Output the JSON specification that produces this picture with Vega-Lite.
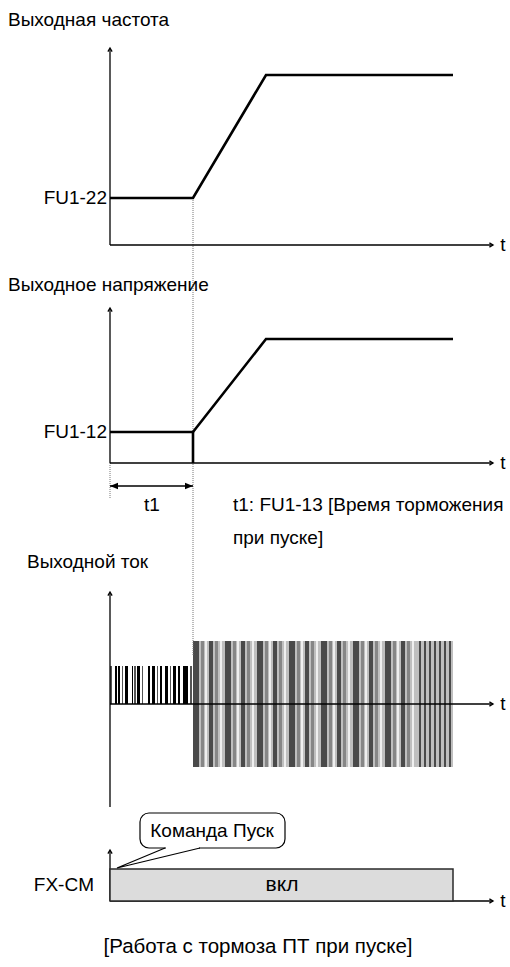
{
  "$schema": "https://vega.github.io/schema/vega-lite/v6.json",
  "width": 510,
  "height": 967,
  "autosize": {"type": "fit", "contains": "padding"},
  "padding": 0,
  "background": "white",
  "config": {"view": {"stroke": null}, "font": "Liberation Sans"},
  "datasets": {
    "signals": [
      {"s": "freq", "o": 1, "t": 0, "v": 198},
      {"s": "freq", "o": 2, "t": 83, "v": 198},
      {"s": "freq", "o": 3, "t": 156, "v": 75},
      {"s": "freq", "o": 4, "t": 343, "v": 75},
      {"s": "volt_hold", "o": 1, "t": 0, "v": 432},
      {"s": "volt_hold", "o": 2, "t": 83, "v": 432},
      {"s": "volt_hold", "o": 3, "t": 83, "v": 463},
      {"s": "volt_ramp", "o": 1, "t": 83, "v": 432},
      {"s": "volt_ramp", "o": 2, "t": 156, "v": 339},
      {"s": "volt_ramp", "o": 3, "t": 343, "v": 339}
    ],
    "axes": [
      {"t": 0, "t2": 0, "v": 245, "v2": 49},
      {"t": 0, "t2": 383, "v": 245, "v2": 245},
      {"t": 0, "t2": 0, "v": 463, "v2": 309},
      {"t": 0, "t2": 383, "v": 463, "v2": 463},
      {"t": 0, "t2": 0, "v": 807, "v2": 593},
      {"t": 0, "t2": 0, "v": 901, "v2": 851},
      {"t": 0, "t2": 383, "v": 901, "v2": 901}
    ],
    "currentAxis": [{"t": 0, "t2": 383, "v": 704, "v2": 704}],
    "arrowsUp": [{"t": 0, "v": 48}, {"t": 0, "v": 308}, {"t": 0, "v": 592}, {"t": 0, "v": 850}],
    "arrowsRight": [{"t": 383, "v": 245}, {"t": 383, "v": 463}, {"t": 383, "v": 704}, {"t": 383, "v": 901}],
    "dotted": [
      {"t": 83, "t2": 83, "v": 198, "v2": 655},
      {"t": 0, "t2": 0, "v": 463, "v2": 498}
    ],
    "cur1": [
      {"t": 0, "t2": 2, "v": 666, "v2": 704, "shade": "g"}, {"t": 5, "t2": 7, "v": 666, "v2": 704, "shade": "k"},
      {"t": 8, "t2": 10, "v": 666, "v2": 704, "shade": "k"}, {"t": 12, "t2": 13, "v": 666, "v2": 704, "shade": "g"},
      {"t": 15, "t2": 18, "v": 666, "v2": 704, "shade": "k"}, {"t": 22, "t2": 23, "v": 666, "v2": 704, "shade": "k"},
      {"t": 24, "t2": 26, "v": 666, "v2": 704, "shade": "g"}, {"t": 27, "t2": 30, "v": 666, "v2": 704, "shade": "k"},
      {"t": 32, "t2": 33, "v": 666, "v2": 704, "shade": "g"}, {"t": 38, "t2": 40, "v": 666, "v2": 704, "shade": "k"},
      {"t": 42, "t2": 45, "v": 666, "v2": 704, "shade": "k"}, {"t": 47, "t2": 48, "v": 666, "v2": 704, "shade": "g"},
      {"t": 50, "t2": 52, "v": 666, "v2": 704, "shade": "k"}, {"t": 55, "t2": 58, "v": 666, "v2": 704, "shade": "k"},
      {"t": 60, "t2": 61, "v": 666, "v2": 704, "shade": "g"}, {"t": 63, "t2": 66, "v": 666, "v2": 704, "shade": "k"},
      {"t": 68, "t2": 70, "v": 666, "v2": 704, "shade": "k"}, {"t": 73, "t2": 78, "v": 666, "v2": 704, "shade": "k"},
      {"t": 80, "t2": 82, "v": 666, "v2": 704, "shade": "g"}
    ],
    "cur2": [
      {"t": 83, "t2": 343, "v": 641, "v2": 767, "shade": "l"},
      {"t": 83, "t2": 89, "v": 641, "v2": 767, "shade": "d"}, {"t": 91, "t2": 94, "v": 641, "v2": 767, "shade": "m"}, {"t": 95, "t2": 97, "v": 641, "v2": 767, "shade": "w"},
      {"t": 99, "t2": 103, "v": 641, "v2": 767, "shade": "d"}, {"t": 105, "t2": 108, "v": 641, "v2": 767, "shade": "m"}, {"t": 110, "t2": 112, "v": 641, "v2": 767, "shade": "w"},
      {"t": 115, "t2": 121, "v": 641, "v2": 767, "shade": "d"}, {"t": 123, "t2": 126, "v": 641, "v2": 767, "shade": "m"}, {"t": 127, "t2": 129, "v": 641, "v2": 767, "shade": "w"},
      {"t": 131, "t2": 135, "v": 641, "v2": 767, "shade": "d"}, {"t": 137, "t2": 140, "v": 641, "v2": 767, "shade": "m"}, {"t": 142, "t2": 144, "v": 641, "v2": 767, "shade": "w"},
      {"t": 147, "t2": 153, "v": 641, "v2": 767, "shade": "d"}, {"t": 155, "t2": 158, "v": 641, "v2": 767, "shade": "m"}, {"t": 159, "t2": 161, "v": 641, "v2": 767, "shade": "w"},
      {"t": 163, "t2": 167, "v": 641, "v2": 767, "shade": "d"}, {"t": 169, "t2": 172, "v": 641, "v2": 767, "shade": "m"}, {"t": 174, "t2": 176, "v": 641, "v2": 767, "shade": "w"},
      {"t": 179, "t2": 185, "v": 641, "v2": 767, "shade": "d"}, {"t": 187, "t2": 190, "v": 641, "v2": 767, "shade": "m"}, {"t": 191, "t2": 193, "v": 641, "v2": 767, "shade": "w"},
      {"t": 195, "t2": 199, "v": 641, "v2": 767, "shade": "d"}, {"t": 201, "t2": 204, "v": 641, "v2": 767, "shade": "m"}, {"t": 206, "t2": 208, "v": 641, "v2": 767, "shade": "w"},
      {"t": 211, "t2": 217, "v": 641, "v2": 767, "shade": "d"}, {"t": 219, "t2": 222, "v": 641, "v2": 767, "shade": "m"}, {"t": 223, "t2": 225, "v": 641, "v2": 767, "shade": "w"},
      {"t": 227, "t2": 231, "v": 641, "v2": 767, "shade": "d"}, {"t": 233, "t2": 236, "v": 641, "v2": 767, "shade": "m"}, {"t": 238, "t2": 240, "v": 641, "v2": 767, "shade": "w"},
      {"t": 243, "t2": 249, "v": 641, "v2": 767, "shade": "d"}, {"t": 251, "t2": 254, "v": 641, "v2": 767, "shade": "m"}, {"t": 255, "t2": 257, "v": 641, "v2": 767, "shade": "w"},
      {"t": 259, "t2": 263, "v": 641, "v2": 767, "shade": "d"}, {"t": 265, "t2": 268, "v": 641, "v2": 767, "shade": "m"}, {"t": 270, "t2": 272, "v": 641, "v2": 767, "shade": "w"},
      {"t": 275, "t2": 281, "v": 641, "v2": 767, "shade": "d"}, {"t": 283, "t2": 286, "v": 641, "v2": 767, "shade": "m"}, {"t": 287, "t2": 289, "v": 641, "v2": 767, "shade": "w"},
      {"t": 291, "t2": 295, "v": 641, "v2": 767, "shade": "d"}, {"t": 297, "t2": 300, "v": 641, "v2": 767, "shade": "m"}, {"t": 302, "t2": 304, "v": 641, "v2": 767, "shade": "w"},
      {"t": 309, "t2": 311, "v": 641, "v2": 767, "shade": "d"}, {"t": 314, "t2": 316, "v": 641, "v2": 767, "shade": "d"},
      {"t": 319, "t2": 321, "v": 641, "v2": 767, "shade": "d"}, {"t": 324, "t2": 326, "v": 641, "v2": 767, "shade": "d"},
      {"t": 329, "t2": 331, "v": 641, "v2": 767, "shade": "d"}, {"t": 334, "t2": 336, "v": 641, "v2": 767, "shade": "d"},
      {"t": 339, "t2": 341, "v": 641, "v2": 767, "shade": "d"}
    ],
    "titles": [
      {"t": -102, "v": 20, "text": "Выходная частота"},
      {"t": -102, "v": 285, "text": "Выходное напряжение"},
      {"t": -83, "v": 562, "text": "Выходной ток"},
      {"t": 123, "v": 505, "text": "t1: FU1-13 [Время торможения"},
      {"t": 123, "v": 538, "text": "при пуске]"}
    ],
    "levels": [
      {"t": -3, "v": 198, "text": "FU1-22"},
      {"t": -3, "v": 432, "text": "FU1-12"},
      {"t": -16, "v": 885, "text": "FX-CM"}
    ],
    "centers": [
      {"t": 42, "v": 505, "text": "t1"},
      {"t": 102, "v": 831, "text": "Команда Пуск"},
      {"t": 393, "v": 245, "text": "t"},
      {"t": 393, "v": 463, "text": "t"},
      {"t": 393, "v": 704, "text": "t"},
      {"t": 393, "v": 901, "text": "t"}
    ],
    "state": [{"t": 172, "v": 885, "text": "вкл"}],
    "caption": [{"t": 148, "v": 947, "text": "[Работа с тормоза ПТ при пуске]"}],
    "cmdBox": [{"t": 0, "t2": 343, "v": 869, "v2": 901}],
    "callout": [{"t": 30, "t2": 175, "v": 813, "v2": 848}],
    "calloutGap": [{"t": 56, "t2": 89, "v": 848, "v2": 848}],
    "calloutTail": [
      {"o": 1, "t": 55, "v": 848},
      {"o": 2, "t": 7, "v": 868},
      {"o": 3, "t": 90, "v": 848}
    ],
    "span": [{"t": 0, "t2": 83, "v": 486, "v2": 486}],
    "spanLeft": [{"t": 0, "v": 486}],
    "spanRight": [{"t": 83, "v": 486}]
  },
  "encoding": {
    "x": {"field": "t", "type": "quantitative", "scale": {"domain": [-110, 400], "nice": false, "zero": false}, "axis": null},
    "y": {"field": "v", "type": "quantitative", "scale": {"domain": [0, 967], "nice": false, "zero": false, "reverse": true}, "axis": null}
  },
  "layer": [
    {"data": {"name": "cur1"}, "mark": {"type": "rect"},
     "encoding": {"x2": {"field": "t2"}, "y2": {"field": "v2"},
       "color": {"field": "shade", "type": "nominal", "legend": null,
         "scale": {"domain": ["k", "g", "d", "m", "w", "l"], "range": ["#000000", "#555555", "#4a4a4a", "#868686", "#efefef", "#bfbfbf"]}}}},
    {"data": {"name": "cur2"}, "mark": {"type": "rect"},
     "encoding": {"x2": {"field": "t2"}, "y2": {"field": "v2"},
       "color": {"field": "shade", "type": "nominal", "legend": null}}},
    {"data": {"name": "dotted"}, "mark": {"type": "rule", "color": "#777777", "strokeWidth": 1, "strokeDash": [1, 1]},
     "encoding": {"x2": {"field": "t2"}, "y2": {"field": "v2"}}},
    {"data": {"name": "axes"}, "mark": {"type": "rule", "color": "#000000", "strokeWidth": 1.3},
     "encoding": {"x2": {"field": "t2"}, "y2": {"field": "v2"}}},
    {"data": {"name": "currentAxis"}, "mark": {"type": "rule", "color": "#000000", "strokeWidth": 1.3},
     "encoding": {"x2": {"field": "t2"}, "y2": {"field": "v2"}}},
    {"data": {"name": "arrowsUp"}, "mark": {"type": "point", "shape": "M-0.7,1.2L0,0L0.7,1.2", "filled": false, "stroke": "#000000", "strokeWidth": 1.3, "size": 36, "opacity": 1}},
    {"data": {"name": "arrowsRight"}, "mark": {"type": "point", "shape": "M-1.2,-0.7L0,0L-1.2,0.7", "filled": false, "stroke": "#000000", "strokeWidth": 1.3, "size": 36, "opacity": 1}},
    {"data": {"name": "signals"}, "mark": {"type": "line", "color": "#000000", "strokeWidth": 2.6, "strokeJoin": "miter", "strokeCap": "butt"},
     "encoding": {"detail": {"field": "s"}, "order": {"field": "o"}}},
    {"data": {"name": "span"}, "mark": {"type": "rule", "color": "#000000", "strokeWidth": 1.6},
     "encoding": {"x2": {"field": "t2"}}},
    {"data": {"name": "spanLeft"}, "mark": {"type": "point", "shape": "M0,0L2,-0.8L2,0.8Z", "filled": true, "color": "#000000", "size": 64, "opacity": 1}},
    {"data": {"name": "spanRight"}, "mark": {"type": "point", "shape": "M0,0L-2,-0.8L-2,0.8Z", "filled": true, "color": "#000000", "size": 64, "opacity": 1}},
    {"data": {"name": "cmdBox"}, "mark": {"type": "rect", "fill": "#dcdcdc", "stroke": "#2a2a2a", "strokeWidth": 1.5},
     "encoding": {"x2": {"field": "t2"}, "y2": {"field": "v2"}}},
    {"data": {"name": "callout"}, "mark": {"type": "rect", "fill": "#ffffff", "stroke": "#000000", "strokeWidth": 1.2, "cornerRadius": 9},
     "encoding": {"x2": {"field": "t2"}, "y2": {"field": "v2"}}},
    {"data": {"name": "calloutGap"}, "mark": {"type": "rule", "color": "#ffffff", "strokeWidth": 3},
     "encoding": {"x2": {"field": "t2"}}},
    {"data": {"name": "calloutTail"}, "mark": {"type": "line", "color": "#000000", "strokeWidth": 1.2},
     "encoding": {"order": {"field": "o"}}},
    {"data": {"name": "titles"}, "mark": {"type": "text", "align": "left", "baseline": "middle", "fontSize": 19, "color": "#000000"},
     "encoding": {"text": {"field": "text"}}},
    {"data": {"name": "levels"}, "mark": {"type": "text", "align": "right", "baseline": "middle", "fontSize": 19, "color": "#000000"},
     "encoding": {"text": {"field": "text"}}},
    {"data": {"name": "centers"}, "mark": {"type": "text", "align": "center", "baseline": "middle", "fontSize": 19, "color": "#000000"},
     "encoding": {"text": {"field": "text"}}},
    {"data": {"name": "state"}, "mark": {"type": "text", "align": "center", "baseline": "middle", "fontSize": 21, "color": "#000000"},
     "encoding": {"text": {"field": "text"}}},
    {"data": {"name": "caption"}, "mark": {"type": "text", "align": "center", "baseline": "middle", "fontSize": 20.5, "color": "#000000"},
     "encoding": {"text": {"field": "text"}}}
  ]
}
